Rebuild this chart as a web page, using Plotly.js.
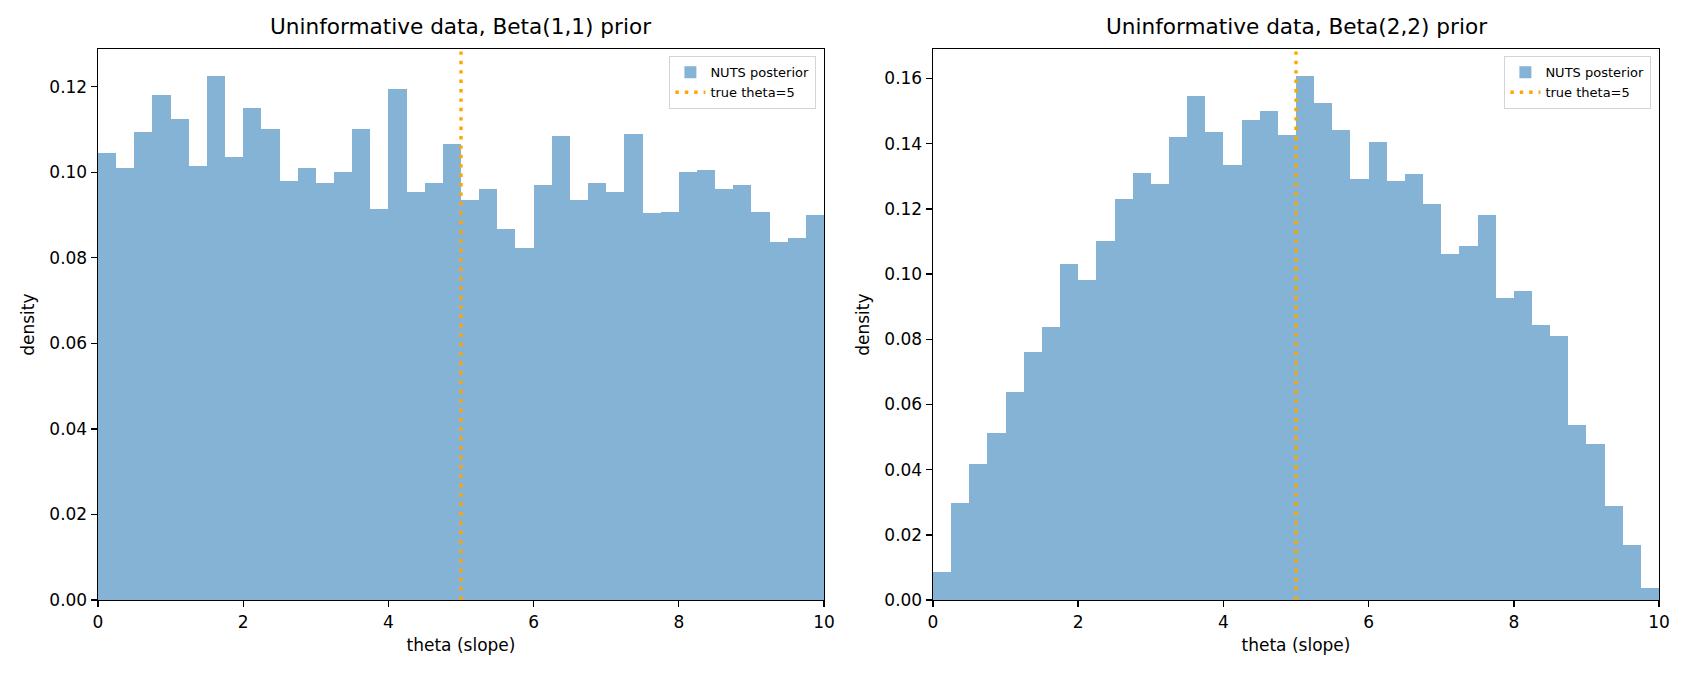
<!DOCTYPE html>
<html>
<head>
<meta charset="utf-8">
<script src="https://cdn.plot.ly/plotly-3.0.1.min.js"></script>
<style>
  html, body { margin: 0; padding: 0; background: #fff; }
  #chart { width: 1690px; height: 676px; }
</style>
</head>
<body>
<div id="chart"></div>
<script>
// bin centres of theta (slope), 40 bins of width 0.25 over [0, 10]
var binCenters = [0.125, 0.375, 0.625, 0.875, 1.125, 1.375, 1.625, 1.875,
  2.125, 2.375, 2.625, 2.875, 3.125, 3.375, 3.625, 3.875,
  4.125, 4.375, 4.625, 4.875, 5.125, 5.375, 5.625, 5.875,
  6.125, 6.375, 6.625, 6.875, 7.125, 7.375, 7.625, 7.875,
  8.125, 8.375, 8.625, 8.875, 9.125, 9.375, 9.625, 9.875];

// density, Beta(1,1) prior
var densBeta11 = [0.1045, 0.1009, 0.1094, 0.1181, 0.1125, 0.1014, 0.1226, 0.1035,
  0.1151, 0.1101, 0.0979, 0.1009, 0.0974, 0.1000, 0.1101, 0.0913,
  0.1195, 0.0953, 0.0974, 0.1066, 0.0934, 0.0960, 0.0868, 0.0824,
  0.0969, 0.1085, 0.0934, 0.0974, 0.0953, 0.1089, 0.0904, 0.0908,
  0.1000, 0.1005, 0.0960, 0.0969, 0.0908, 0.0838, 0.0847, 0.0899];

// density, Beta(2,2) prior
var densBeta22 = [0.0086, 0.0297, 0.0417, 0.0511, 0.0637, 0.0762, 0.0836, 0.1031,
  0.0982, 0.1101, 0.1231, 0.1310, 0.1276, 0.1420, 0.1545, 0.1436,
  0.1334, 0.1472, 0.1500, 0.1426, 0.1609, 0.1524, 0.1442, 0.1292,
  0.1404, 0.1286, 0.1307, 0.1215, 0.1062, 0.1087, 0.1181, 0.0925,
  0.0947, 0.0845, 0.0811, 0.0538, 0.0479, 0.0287, 0.0169, 0.0038];

var trueTheta = 5;
var titles = ['Uninformative data, Beta(1,1) prior', 'Uninformative data, Beta(2,2) prior'];

var barColor = 'rgb(132,179,213)';
var lineColor = 'rgb(255,165,0)';
var fnt = 'DejaVu Sans, sans-serif';

var ymax1 = Math.max.apply(null, densBeta11) * 1.05;
var ymax2 = Math.max.apply(null, densBeta22) * 1.05;

function histTrace(y, xa, ya, lg) {
  return {
    type: 'bar', x: binCenters, y: y, width: 0.25,
    xaxis: xa, yaxis: ya, legend: lg,
    name: 'NUTS posterior',
    marker: {color: barColor, line: {width: 0}},
    hoverinfo: 'x+y'
  };
}

function trueLine(top, xa, ya, lg) {
  return {
    type: 'scatter', mode: 'lines', x: [trueTheta, trueTheta], y: [0, top],
    xaxis: xa, yaxis: ya, legend: lg,
    name: 'true theta=' + trueTheta,
    line: {color: lineColor, width: 3.4, dash: '3.4px,6px'}
  };
}

var data = [
  histTrace(densBeta11, 'x', 'y', 'legend'),
  trueLine(ymax1, 'x', 'y', 'legend'),
  histTrace(densBeta22, 'x2', 'y2', 'legend2'),
  trueLine(ymax2, 'x2', 'y2', 'legend2')
];

function xax(dom, anchor) {
  return {
    domain: dom, anchor: anchor, range: [0, 10],
    tickvals: [0, 2, 4, 6, 8, 10],
    ticks: 'outside', ticklen: 6, tickwidth: 1.4, tickcolor: '#000',
    showline: true, linecolor: '#000', linewidth: 1.4, mirror: true,
    showgrid: false, zeroline: false,
    tickfont: {family: fnt, size: 17, color: '#000'},
    title: {text: 'theta (slope)', font: {family: fnt, size: 17, color: '#000'}, standoff: 8}
  };
}
function yax(dom, anchor, top, dtick) {
  return {
    domain: dom, anchor: anchor, range: [0, top],
    dtick: dtick, tickformat: '.2f',
    ticks: 'outside', ticklen: 6, tickwidth: 1.4, tickcolor: '#000',
    showline: true, linecolor: '#000', linewidth: 1.4, mirror: true,
    showgrid: false, zeroline: false,
    tickfont: {family: fnt, size: 17, color: '#000'},
    title: {text: 'density', font: {family: fnt, size: 17, color: '#000'}, standoff: 10}
  };
}

var yDom = [76 / 676, 626.7 / 676];

function legendAt(xr) {
  return {
    x: xr, xanchor: 'right', y: (676 - 56) / 676, yanchor: 'top',
    bgcolor: 'rgba(255,255,255,0.8)', bordercolor: '#d5d5d5', borderwidth: 1.4,
    font: {family: fnt, size: 13, color: '#000'},
    tracegroupgap: 0, itemwidth: 30
  };
}

var layout = {
  width: 1690, height: 676,
  margin: {l: 0, r: 0, t: 0, b: 0},
  paper_bgcolor: '#fff', plot_bgcolor: '#fff',
  bargap: 0,
  showlegend: true,
  xaxis: xax([98 / 1690, 824 / 1690], 'y'),
  yaxis: yax(yDom, 'x', ymax1, 0.02),
  xaxis2: xax([933 / 1690, 1659 / 1690], 'y2'),
  yaxis2: yax(yDom, 'x2', ymax2, 0.02),
  legend: legendAt(816 / 1690),
  legend2: legendAt(1651 / 1690),
  annotations: [
    {text: titles[0], xref: 'paper', yref: 'paper', x: 461 / 1690, y: (676 - 41) / 676,
     xanchor: 'center', yanchor: 'bottom', showarrow: false,
     font: {family: fnt, size: 21.6, color: '#000'}},
    {text: titles[1], xref: 'paper', yref: 'paper', x: 1296 / 1690, y: (676 - 41) / 676,
     xanchor: 'center', yanchor: 'bottom', showarrow: false,
     font: {family: fnt, size: 21.6, color: '#000'}}
  ]
};

Plotly.newPlot('chart', data, layout, {displayModeBar: false, staticPlot: true});
</script>
</body>
</html>
